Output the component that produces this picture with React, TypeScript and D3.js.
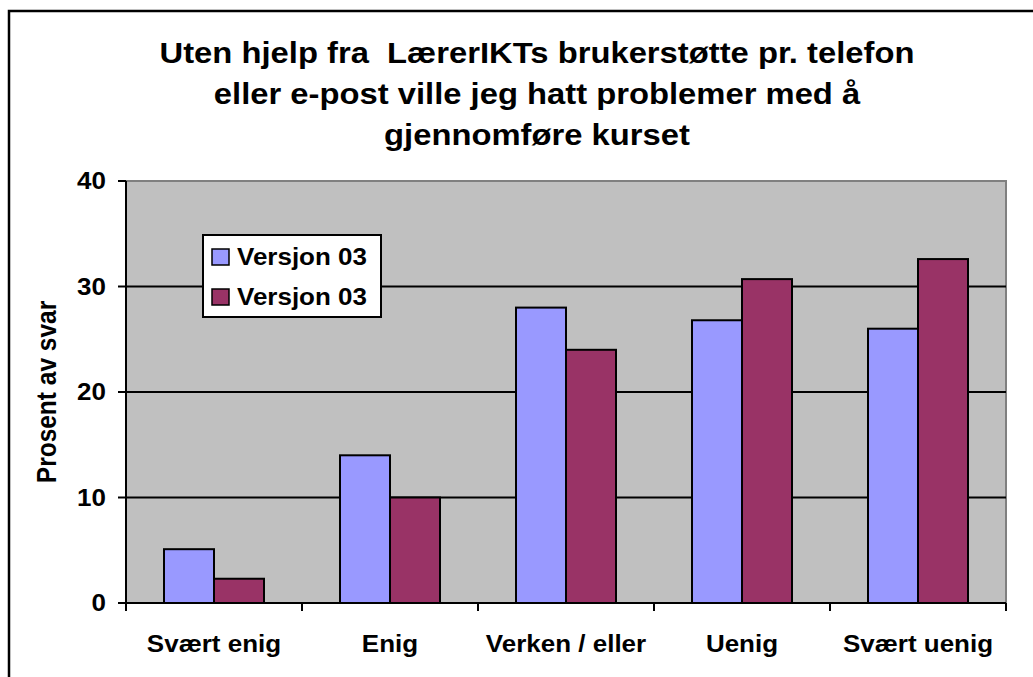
import * as d3 from "d3";

const categories = ["Svært enig", "Enig", "Verken / eller", "Uenig", "Svært uenig"];
const seriesNames = ["Versjon 03", "Versjon 03"];
const seriesA = [5.1, 14.0, 28.0, 26.8, 26.0];
const seriesB = [2.3, 10.0, 24.0, 30.7, 32.6];
const yTicks = [0, 10, 20, 30, 40];
const titleLines = [
  "Uten hjelp fra  LærerIKTs brukerstøtte pr. telefon",
  "eller e-post ville jeg hatt problemer med å",
  "gjennomføre kurset",
];
const colors = ["#9999FF", "#993366"];

const W = 1033;
const H = 677;
const plot = { left: 126, top: 181, right: 1006, bottom: 603 };
const SX = 1.13; // horizontal stretch seen in the picture
const font = "Liberation Sans, Arial, sans-serif";

export default function App() {
  const x = d3.scaleBand<string>().domain(categories).range([plot.left, plot.right]);
  const inner = d3
    .scaleBand<number>()
    .domain([0, 1])
    .range([0, x.bandwidth()])
    .paddingInner(0)
    .paddingOuter(0.76);
  const y = d3.scaleLinear().domain([0, 40]).range([plot.bottom, plot.top]);
  const series = [seriesA, seriesB];

  const stretched = (tx: number, ty: number) => `translate(${tx},${ty}) scale(${SX},1)`;

  return (
    <svg
      width={W}
      height={H}
      style={{ position: "absolute", left: 0, top: 0, background: "#fff" }}
      fontFamily={font}
      fontWeight="bold"
    >
      <rect x={9} y={11} width={1060} height={700} fill="#fff" stroke="#000" strokeWidth={2.5} />

      {titleLines.map((t, i) => (
        <text
          key={i}
          transform={stretched(537, 63 + i * 41)}
          textAnchor="middle"
          fontSize={29}
          style={{ whiteSpace: "pre" }}
        >
          {t}
        </text>
      ))}

      <rect
        x={plot.left}
        y={plot.top}
        width={plot.right - plot.left}
        height={plot.bottom - plot.top}
        fill="#C0C0C0"
        stroke="#808080"
        strokeWidth={2}
      />

      {yTicks
        .filter((v) => v > 0 && v < 40)
        .map((v) => (
          <line key={v} x1={plot.left} x2={plot.right} y1={y(v)} y2={y(v)} stroke="#000" strokeWidth={2} />
        ))}

      {series.map((vals, si) =>
        vals.map((v, ci) => (
          <rect
            key={`${si}-${ci}`}
            x={(x(categories[ci]) ?? 0) + (inner(si) ?? 0)}
            y={y(v)}
            width={inner.bandwidth()}
            height={y(0) - y(v)}
            fill={colors[si]}
            stroke="#000"
            strokeWidth={2}
          />
        ))
      )}

      {/* axes */}
      <line x1={plot.left} x2={plot.left} y1={plot.top} y2={plot.bottom} stroke="#000" strokeWidth={2} />
      <line x1={plot.left} x2={plot.right} y1={plot.bottom} y2={plot.bottom} stroke="#000" strokeWidth={2} />
      {yTicks.map((v) => (
        <g key={v}>
          <line x1={plot.left - 8} x2={plot.left} y1={y(v)} y2={y(v)} stroke="#000" strokeWidth={2} />
          <text transform={stretched(106, y(v) + 8)} textAnchor="end" fontSize={23}>
            {v}
          </text>
        </g>
      ))}
      {categories.concat([""]).map((c, i) => {
        const bx = plot.left + i * x.step();
        return <line key={i} x1={bx} x2={bx} y1={plot.bottom} y2={plot.bottom + 8} stroke="#000" strokeWidth={2} />;
      })}
      {categories.map((c) => (
        <text
          key={c}
          transform={stretched((x(c) ?? 0) + x.bandwidth() / 2, 652)}
          textAnchor="middle"
          fontSize={23}
        >
          {c}
        </text>
      ))}

      <text
        transform={`translate(56,${(plot.top + plot.bottom) / 2}) rotate(-90) scale(1,${SX})`}
        textAnchor="middle"
        fontSize={24.5}
      >
        Prosent av svar
      </text>

      {/* legend */}
      <rect x={203} y={235} width={178} height={82} fill="#fff" stroke="#000" strokeWidth={2} />
      {seriesNames.map((n, i) => (
        <g key={i}>
          <rect x={212} y={249 + i * 40} width={17} height={16} fill={colors[i]} stroke="#000" strokeWidth={1.5} />
          <text transform={stretched(237, 265 + i * 40)} fontSize={23}>
            {n}
          </text>
        </g>
      ))}
    </svg>
  );
}
